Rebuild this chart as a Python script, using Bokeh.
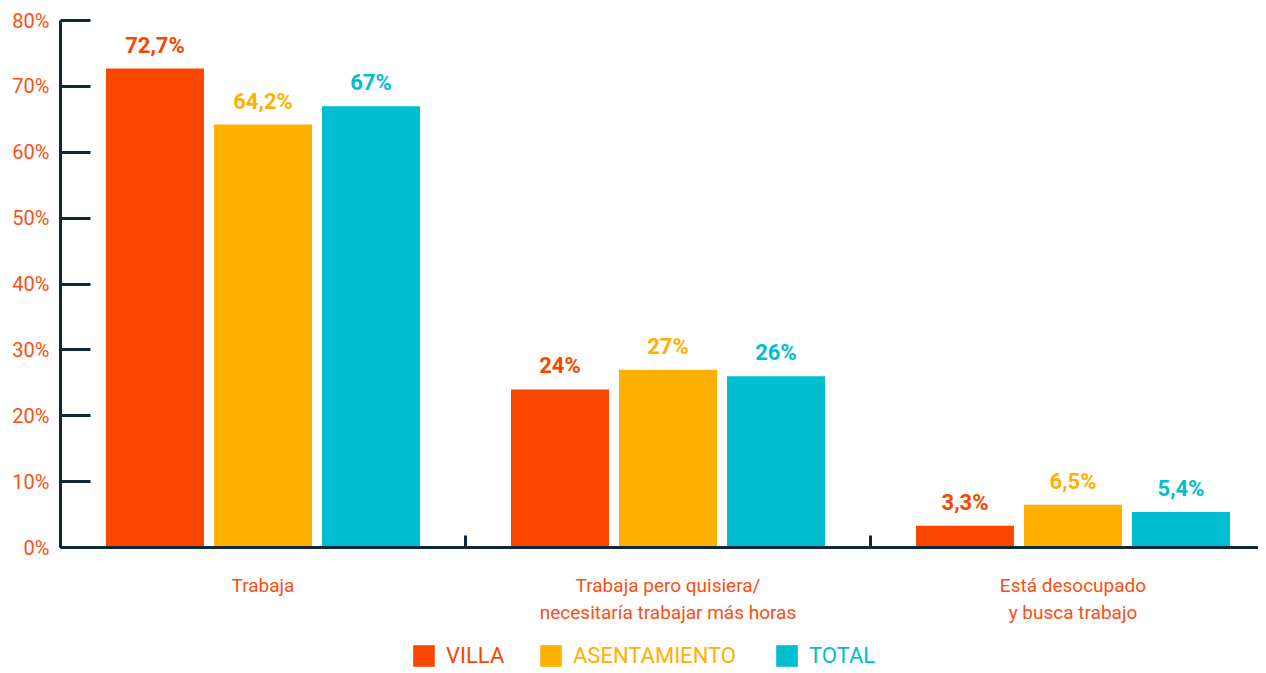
import numpy as np
from bokeh.plotting import figure
from bokeh.layouts import column
from bokeh.models import (ColumnDataSource, Range1d, FixedTicker, Legend, LegendItem,
                          LabelSet)
from bokeh.core.properties import value
from bokeh.embed import file_html
from bokeh.resources import INLINE

# ---- data ----
categories = ["Trabaja",
              "Trabaja pero quisiera/\nnecesitaría trabajar más horas",
              "Está desocupado\ny busca trabajo"]
villa = [72.7, 24.0, 3.3]
asentamiento = [64.2, 27.0, 6.5]
total = [67.0, 26.0, 5.4]
villa_labels = ["72,7%", "24%", "3,3%"]
asentamiento_labels = ["64,2%", "27%", "6,5%"]
total_labels = ["67%", "26%", "5,4%"]
series_names = ["VILLA", "ASENTAMIENTO", "TOTAL"]
y_ticks = [0, 10, 20, 30, 40, 50, 60, 70, 80]

colors = ["#FB4600", "#FFB000", "#00BED0"]
axis_color = "#10283A"
label_color = "#FB4F14"
FONT = "Roboto"

centers = np.arange(len(categories)) + 0.5
offsets = [-0.2667, 0.0, 0.2667]
bar_w = 0.242

FW = 1198
p = figure(output_backend="svg", toolbar_location=None,
           frame_width=FW, frame_height=527,
           min_border_left=60, min_border_right=0, min_border_top=20, min_border_bottom=68,
           x_range=Range1d(0, FW / 405), y_range=Range1d(0, 80))
p.outline_line_color = None
p.xgrid.visible = False
p.ygrid.visible = False
p.background_fill_color = "white"
p.border_fill_color = "white"

for vals, labs, col, off in zip([villa, asentamiento, total],
                                [villa_labels, asentamiento_labels, total_labels],
                                colors, offsets):
    src = ColumnDataSource(dict(x=centers + off, top=vals, lab=labs))
    p.vbar(x="x", top="top", width=bar_w, bottom=0, source=src,
           fill_color=col, line_color=None)
    ls = LabelSet(x="x", y="top", text="lab", source=src, text_align="center",
                  text_baseline="bottom", y_offset=11, text_color=col,
                  text_font=value(FONT), text_font_size="22px",
                  text_font_style="bold")
    p.add_layout(ls)

# y axis
ya = p.yaxis[0]
ya.ticker = FixedTicker(ticks=y_ticks)
ya.major_label_overrides = {t: f"{t}%" for t in y_ticks}
ya.major_tick_in = 30
ya.major_tick_out = 0
ya.minor_tick_line_color = None
ya.axis_line_color = axis_color
ya.axis_line_width = 3
ya.major_tick_line_color = axis_color
ya.major_tick_line_width = 3
ya.major_label_text_color = label_color
ya.major_label_text_font = FONT
ya.major_label_text_font_size = "20px"
ya.major_label_standoff = 11

# x axis
xa = p.xaxis[0]
xa.ticker = FixedTicker(ticks=list(centers), minor_ticks=[0, 1, 2, 3])
xa.major_label_overrides = {float(c): name for c, name in zip(centers, categories)}
xa.major_tick_line_color = None
xa.minor_tick_in = 12
xa.minor_tick_out = 0
xa.minor_tick_line_color = axis_color
xa.minor_tick_line_width = 3
xa.axis_line_color = axis_color
xa.axis_line_width = 3
xa.major_label_text_color = label_color
xa.major_label_text_font = FONT
xa.major_label_text_font_size = "19px"
xa.major_label_standoff = 20

# legend strip (separate figure so each label keeps its series colour)
leg = figure(output_backend="svg", toolbar_location=None,
             frame_width=60 + FW, frame_height=50,
             min_border_left=0, min_border_right=0, min_border_top=0, min_border_bottom=0,
             x_range=Range1d(0, 1), y_range=Range1d(0, 1))
leg.axis.visible = False
leg.xgrid.visible = False
leg.ygrid.visible = False
leg.outline_line_color = None
leg.border_fill_color = "white"

legend_x = [410, 537, 773]
for name, col, lx in zip(series_names, colors, legend_x):
    # proxy glyph placed outside the strip's visible range, used only for the legend swatch
    r = leg.vbar(x=[5], top=[0.5], width=0.1, fill_color=col, line_color=None)
    lg = Legend(items=[LegendItem(label=name, renderers=[r])],
                location=(lx, 8), orientation="horizontal",
                glyph_width=27, glyph_height=27, label_standoff=9,
                label_text_color=col, label_text_font=FONT,
                label_text_font_size="22px", label_height=27,
                background_fill_alpha=0, border_line_color=None,
                padding=0, margin=0, spacing=0)
    leg.add_layout(lg, "center")

layout = column(p, leg, spacing=0)
open("out.html", "w").write(file_html(layout, INLINE))
